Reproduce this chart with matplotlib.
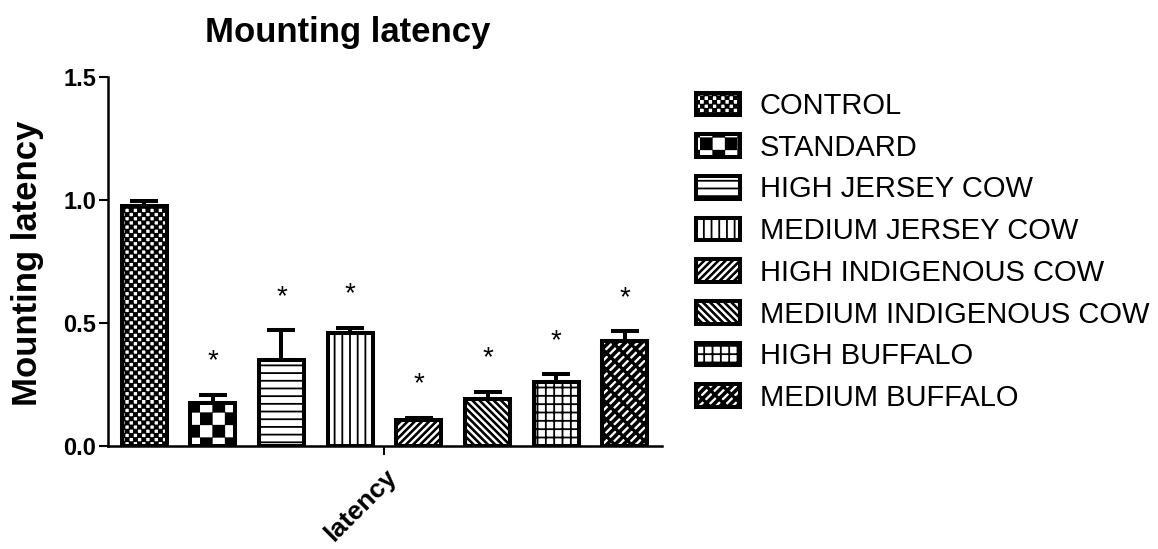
import warnings
import numpy as np
import matplotlib
matplotlib.use("Agg")
import matplotlib.pyplot as plt
import matplotlib.hatch as mhatch
from matplotlib.path import Path

warnings.filterwarnings("ignore")

groups = ["CONTROL", "STANDARD", "HIGH JERSEY COW", "MEDIUM JERSEY COW",
          "HIGH INDIGENOUS COW", "MEDIUM INDIGENOUS COW", "HIGH BUFFALO",
          "MEDIUM BUFFALO"]
latency = [0.976, 0.176, 0.351, 0.459, 0.107, 0.192, 0.260, 0.426]
sem = [0.020, 0.032, 0.119, 0.022, 0.008, 0.028, 0.031, 0.040]
signif = ["", "*", "*", "*", "*", "*", "*", "*"]
hatches = ["k", "c", "h", "v", "n", "s", "g", "w"]


# --- fill textures, each drawn in a unit tile ---------------------------------
def checker(n, inset):
    s = 1.0 / n
    w = s * (1 - 2 * inset)
    out = []
    for i in range(n):
        for j in range(n):
            if (i + j) % 2 == 0:
                x0, y0 = i * s + inset * s, j * s + inset * s
                out.append([(x0, y0), (x0 + w, y0), (x0 + w, y0 + w),
                            (x0, y0 + w), (x0, y0)])
    return out


def hlines(n):
    return [[(-0.1, (i + 0.5) / n), (1.1, (i + 0.5) / n)] for i in range(n)]


def vlines(n):
    return [[((i + 0.5) / n, -0.1), ((i + 0.5) / n, 1.1)] for i in range(n)]


def ne_strips(n, w):
    d = 1.0 / n
    out = []
    for k in range(-n - 1, n + 2):
        c = k * d
        out.append([(c - 0.1, -0.1), (c + 1.1, 1.1), (c + 1.1 + w * d, 1.1),
                    (c - 0.1 + w * d, -0.1), (c - 0.1, -0.1)])
    return out


def se_strips(n, w):
    d = 1.0 / n
    out = []
    for k in range(-1, 2 * n + 2):
        c = k * d
        out.append([(c + 0.1, -0.1), (c - 1.1, 1.1), (c - 1.1 + w * d, 1.1),
                    (c + 0.1 + w * d, -0.1), (c + 0.1, -0.1)])
    return out


def woven(n, a, b):
    # "/" strips joined by short staggered "\" links
    d = 1.0 / n
    out = ne_strips(n, a)
    s = (d - a * d) / 2
    for k in range(-n - 1, n + 2):
        c = k * d
        for j in range(-2, n + 2):
            t = j * d + (k % 2) * d / 2
            p1 = (c + a * d + t, t)
            p2 = (p1[0] + s, p1[1] - s)
            out.append([p1, p2, (p2[0] + b * d, p2[1] + b * d),
                        (p1[0] + b * d, p1[1] + b * d), p1])
    return out


TEXTURES = {
    "k": checker(24, 0.12),
    "c": checker(8, 0.06),
    "h": hlines(13),
    "v": vlines(13),
    "n": ne_strips(14, 0.15),
    "s": se_strips(14, 0.15),
    "g": hlines(12) + vlines(12),
    "w": woven(12, 0.3, 0.12),
}


class TextureHatch(mhatch.HatchPatternBase):
    def __init__(self, hatch, density):
        self.pieces = []
        for ch, pieces in TEXTURES.items():
            if ch in hatch:
                self.pieces += pieces
        self.num_vertices = sum(len(p) for p in self.pieces)

    def set_vertices_and_codes(self, vertices, codes):
        i = 0
        for p in self.pieces:
            m = len(p)
            vertices[i:i + m] = p
            codes[i] = Path.MOVETO
            codes[i + 1:i + m] = Path.LINETO
            if m == 5:
                codes[i + m - 1] = Path.CLOSEPOLY
            i += m


mhatch._hatch_types.append(TextureHatch)

plt.rcParams["font.family"] = ["Liberation Sans", "DejaVu Sans"]
plt.rcParams["hatch.linewidth"] = 1.3
plt.rcParams["hatch.color"] = "black"

fig = plt.figure(figsize=(11.58, 5.49), dpi=100)
ax = fig.add_axes([0.0933, 0.1876, 0.4784, 0.6721])

x = np.arange(len(groups))
bars = ax.bar(x, latency, width=0.655, color="white", edgecolor="black",
              linewidth=2.9, zorder=2)
for b, h in zip(bars, hatches):
    b.set_hatch(h)

ax.errorbar(x, latency, yerr=[np.zeros(len(sem)), sem], fmt="none",
            ecolor="black", elinewidth=2.9, capsize=10, capthick=2.9, zorder=1)

for xi, v, e, s in zip(x, latency, sem, signif):
    if s:
        ax.annotate(s, xy=(xi, v + e), xytext=(0, 19), textcoords="offset points",
                    ha="center", va="baseline", fontsize=20)

ax.set_xlim(-0.524, 7.54)
ax.set_ylim(0, 1.5)
ax.set_yticks([0, 0.5, 1.0, 1.5])
ax.set_yticklabels(["0.0", "0.5", "1.0", "1.5"], fontsize=17, fontweight="bold")
ax.set_xticks([3.5])
ax.set_xticklabels(["latency"], rotation=45, ha="right", rotation_mode="anchor",
                   fontsize=19, fontweight="bold")

for side in ("top", "right"):
    ax.spines[side].set_visible(False)
for side in ("left", "bottom"):
    ax.spines[side].set_linewidth(1.8)
ax.tick_params(width=1.5, length=6.5, pad=2)
ax.tick_params(axis="x", pad=7)

fig.text(347.5 / 1158, 1 - 42 / 549, "Mounting latency", ha="center",
         va="baseline", fontsize=25, fontweight="bold")
fig.text(28 / 1158, 1 - 263 / 549, "Mounting latency", rotation=90,
         ha="center", va="center", fontsize=25, fontweight="bold")

fig.legend(bars, groups, loc="upper left", bbox_to_anchor=(696 / 1158, 1 - 92 / 549),
           frameon=False, fontsize=21, handlelength=1.51, handleheight=0.82,
           handletextpad=0.68, labelspacing=0.47, borderpad=0, borderaxespad=0)

fig.savefig("out.png", dpi=100)
